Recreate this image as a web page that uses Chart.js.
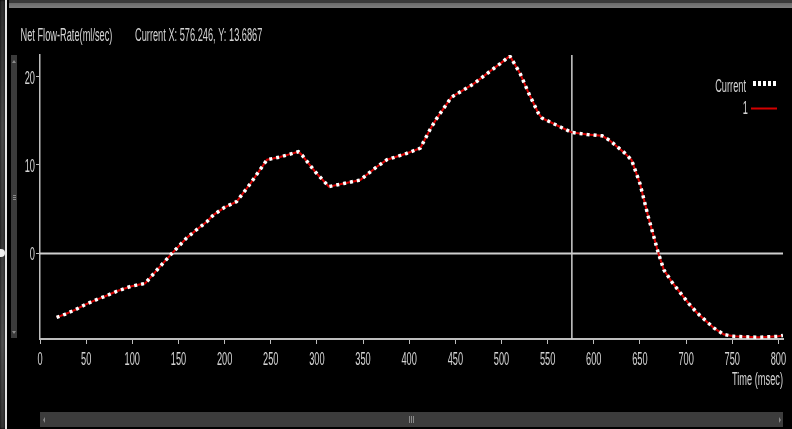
<!DOCTYPE html>
<html>
<head>
<meta charset="utf-8">
<script src="https://cdn.jsdelivr.net/npm/chart.js@4/dist/chart.umd.min.js"></script>
<style>
  html, body { margin: 0; padding: 0; background: #000; }
  #wrap { position: relative; width: 792px; height: 429px; overflow: hidden; background: #000; }
  #plot { position: absolute; left: 0; top: 0; }
  .abs { position: absolute; }
  #edgeShade { left: 0; top: 0; width: 5px; height: 429px;
    background: linear-gradient(#2e2e2e, #4a4a4a 30%, #383838 55%, #505050 80%, #343434); filter: blur(0.8px); }
  #edgeLine { left: 5px; top: 0; width: 2px; height: 429px; background: #e6e6e6; }
  #edgeKnob { left: -3px; top: 249px; width: 8px; height: 8px; border-radius: 50%; background: #f0f0f0; }
  #topDark { left: 9px; top: 0; width: 783px; height: 3px; background: #3a3a3a; }
  #topBar { left: 9px; top: 3px; width: 783px; height: 5px; background: linear-gradient(#6a6a6a, #7e7e7e); }
  #vScroll { left: 11px; top: 55px; width: 6px; height: 283px; background: #3b3b3b; }
  #hScroll { left: 40px; top: 412px; width: 743px; height: 15px; background: #3c3c3c; }
  .tri { width: 0; height: 0; position: absolute; }
  #vUp { left: 12px; top: 60px; border-left: 2px solid transparent; border-right: 2px solid transparent; border-bottom: 3px solid #8a8a8a; }
  #vDown { left: 12px; top: 331px; border-left: 2px solid transparent; border-right: 2px solid transparent; border-top: 3px solid #8a8a8a; }
  #hLeft { left: 43px; top: 417px; border-top: 3px solid transparent; border-bottom: 3px solid transparent; border-right: 2px solid #8a8a8a; }
  #hRight { left: 779px; top: 417px; border-top: 3px solid transparent; border-bottom: 3px solid transparent; border-left: 2px solid #8a8a8a; }
  .gripH { position: absolute; left: 13px; width: 3px; height: 1px; background: #8a8a8a; }
  .gripV { position: absolute; top: 416px; width: 1px; height: 7px; background: #8a8a8a; }
</style>
</head>
<body>
<div id="wrap">
  <canvas id="plot" width="792" height="429"></canvas>
  <div id="edgeShade" class="abs"></div>
  <div id="edgeLine" class="abs"></div>
  <div id="edgeKnob" class="abs"></div>
  <div id="topDark" class="abs"></div>
  <div id="topBar" class="abs"></div>
  <div id="vScroll" class="abs"></div>
  <div id="hScroll" class="abs"></div>
  <div id="vUp" class="tri"></div>
  <div id="vDown" class="tri"></div>
  <div id="hLeft" class="tri"></div>
  <div id="hRight" class="tri"></div>
  <div class="gripH" style="top:195px"></div>
  <div class="gripH" style="top:197px"></div>
  <div class="gripH" style="top:199px"></div>
  <div class="gripV" style="left:409px"></div>
  <div class="gripV" style="left:411px"></div>
  <div class="gripV" style="left:413px"></div>
</div>
<script>
// Sample times (msec) of the net flow-rate trace
const timeMs = [18, 27, 38, 49, 60, 72, 83, 98, 114, 119, 130, 143, 159, 170, 181, 188, 200, 213,
  228, 237, 246, 260, 270, 280, 284, 298, 313, 329, 347, 354, 365, 376, 397, 412, 423, 430, 446,
  459, 470, 480, 490, 499, 509, 520, 530, 540, 544, 560, 576, 593, 609, 617, 625, 633, 641, 650,
  659, 670, 676, 685, 694, 703, 712, 721, 730, 741, 752, 765, 778, 790, 800, 805];

// Net flow-rate (ml/sec) of the current trace
const currentFlow = [-7.25, -6.9, -6.4, -5.8, -5.3, -4.8, -4.3, -3.75, -3.4, -2.8, -1.5, 0, 1.75,
  2.7, 3.6, 4.35, 5.2, 5.85, 7.9, 9.25, 10.6, 10.9, 11.2, 11.5, 11.1, 9.25, 7.55, 7.9, 8.3, 8.9,
  9.8, 10.6, 11.3, 11.9, 14.1, 15.3, 17.7, 18.5, 19.2, 20.0, 20.8, 21.5, 22.35, 20.4, 18.0, 15.85,
  15.3, 14.5, 13.69, 13.45, 13.3, 12.8, 12.1, 11.4, 10.55, 7.9, 4.15, 0, -1.9, -3.3, -4.5, -5.7,
  -6.75, -7.6, -8.45, -9.2, -9.4, -9.45, -9.5, -9.45, -9.4, -9.3];

// Stored run "1" lies exactly under the current trace
const run1Flow = [-7.25, -6.9, -6.4, -5.8, -5.3, -4.8, -4.3, -3.75, -3.4, -2.8, -1.5, 0, 1.75,
  2.7, 3.6, 4.35, 5.2, 5.85, 7.9, 9.25, 10.6, 10.9, 11.2, 11.5, 11.1, 9.25, 7.55, 7.9, 8.3, 8.9,
  9.8, 10.6, 11.3, 11.9, 14.1, 15.3, 17.7, 18.5, 19.2, 20.0, 20.8, 21.5, 22.35, 20.4, 18.0, 15.85,
  15.3, 14.5, 13.69, 13.45, 13.3, 12.8, 12.1, 11.4, 10.55, 7.9, 4.15, 0, -1.9, -3.3, -4.5, -5.7,
  -6.75, -7.6, -8.45, -9.2, -9.4, -9.45, -9.5, -9.45, -9.4, -9.3];

const xTickValues = [0, 50, 100, 150, 200, 250, 300, 350, 400, 450, 500, 550, 600, 650, 700, 750, 800];
const yTickValues = [0, 10, 20];

const cursorX = 576.246;
const cursorY = 13.6867;

const seriesNames = ['Current', '1'];
const yTitle = 'Net Flow-Rate(ml/sec)';
const xTitle = 'Time (msec)';

const TEXT_COLOR = '#d4d4d4';
const AXIS_COLOR = '#bdbdbd';

function points(values) {
  return timeMs.map((t, i) => ({ x: t, y: values[i] }));
}

// Tall, condensed lettering of the instrument display
function label(ctx, text, x, y, align) {
  ctx.save();
  ctx.translate(x, y);
  ctx.scale(0.77, 1.48);
  ctx.font = '12px "Liberation Sans", Arial, sans-serif';
  ctx.fillStyle = TEXT_COLOR;
  ctx.textAlign = align;
  ctx.textBaseline = 'alphabetic';
  ctx.fillText(text, 0, 0);
  ctx.restore();
}

const overlay = {
  id: 'overlay',
  beforeDatasetsDraw(chart) {
    const { ctx, chartArea: a, scales: { x, y } } = chart;
    ctx.save();
    ctx.strokeStyle = '#cfcfcf';
    // zero line
    ctx.lineWidth = 2;
    const y0 = Math.round(y.getPixelForValue(0)) + 0.5;
    ctx.beginPath(); ctx.moveTo(a.left, y0); ctx.lineTo(a.right, y0); ctx.stroke();
    // cursor line
    ctx.lineWidth = 1.5;
    const cx = x.getPixelForValue(cursorX);
    ctx.beginPath(); ctx.moveTo(cx, a.top); ctx.lineTo(cx, a.bottom); ctx.stroke();
    ctx.restore();
  },
  afterDraw(chart) {
    const { ctx, chartArea: a, scales: { x, y } } = chart;
    // header
    label(ctx, yTitle, 20.5, 40.5, 'left');
    label(ctx, 'Current X: ' + cursorX.toFixed(3) + ', Y: ' + cursorY.toFixed(4), 135, 40.5, 'left');
    // tick labels
    yTickValues.forEach(v => label(ctx, String(v), 35, y.getPixelForValue(v) + 7, 'right'));
    xTickValues.forEach(v => label(ctx, String(v), x.getPixelForValue(v), 365, 'center'));
    label(ctx, xTitle, a.right, 385, 'right');
    // legend
    const ds = chart.data.datasets;
    label(ctx, ds[0].label, 746, 91.5, 'right');
    label(ctx, ds[1].label, 748, 114, 'right');
    ctx.save();
    ctx.strokeStyle = ds[1].borderColor;
    ctx.lineWidth = 2;
    ctx.beginPath(); ctx.moveTo(751, 108.5); ctx.lineTo(777, 108.5); ctx.stroke();
    ctx.strokeStyle = ds[0].borderColor;
    ctx.lineWidth = 5;
    ctx.setLineDash([3, 2]);
    ctx.beginPath(); ctx.moveTo(753, 83.5); ctx.lineTo(778, 83.5); ctx.stroke();
    ctx.restore();
  }
};

new Chart(document.getElementById('plot'), {
  type: 'line',
  data: {
    datasets: [
      {
        label: seriesNames[0],
        data: points(currentFlow),
        borderColor: '#ffffff',
        borderWidth: 3.5,
        borderDash: [3, 4],
        borderCapStyle: 'butt',
        pointRadius: 0,
        tension: 0
      },
      {
        label: seriesNames[1],
        data: points(run1Flow),
        borderColor: '#d40000',
        borderWidth: 2,
        pointRadius: 0,
        tension: 0
      }
    ]
  },
  options: {
    responsive: false,
    animation: false,
    events: [],
    layout: { padding: { left: 0, top: 55, right: 9, bottom: 0 } },
    plugins: { legend: { display: false }, tooltip: { enabled: false }, title: { display: false } },
    scales: {
      x: {
        type: 'linear',
        min: 0,
        max: 805,
        afterBuildTicks: s => { s.ticks = xTickValues.map(v => ({ value: v })); },
        afterFit: s => { s.height = 90; },
        ticks: { display: false },
        grid: { drawOnChartArea: false, drawTicks: true, tickLength: 5, color: AXIS_COLOR, lineWidth: 1 },
        border: { display: true, color: AXIS_COLOR, width: 2 }
      },
      y: {
        type: 'linear',
        min: -9.7,
        max: 22.45,
        afterBuildTicks: s => { s.ticks = yTickValues.map(v => ({ value: v })); },
        afterFit: s => { s.width = 40; },
        ticks: { display: false },
        grid: { drawOnChartArea: false, drawTicks: true, tickLength: 4, color: AXIS_COLOR, lineWidth: 1 },
        border: { display: true, color: AXIS_COLOR, width: 1.5 }
      }
    }
  },
  plugins: [overlay]
});
</script>
</body>
</html>
